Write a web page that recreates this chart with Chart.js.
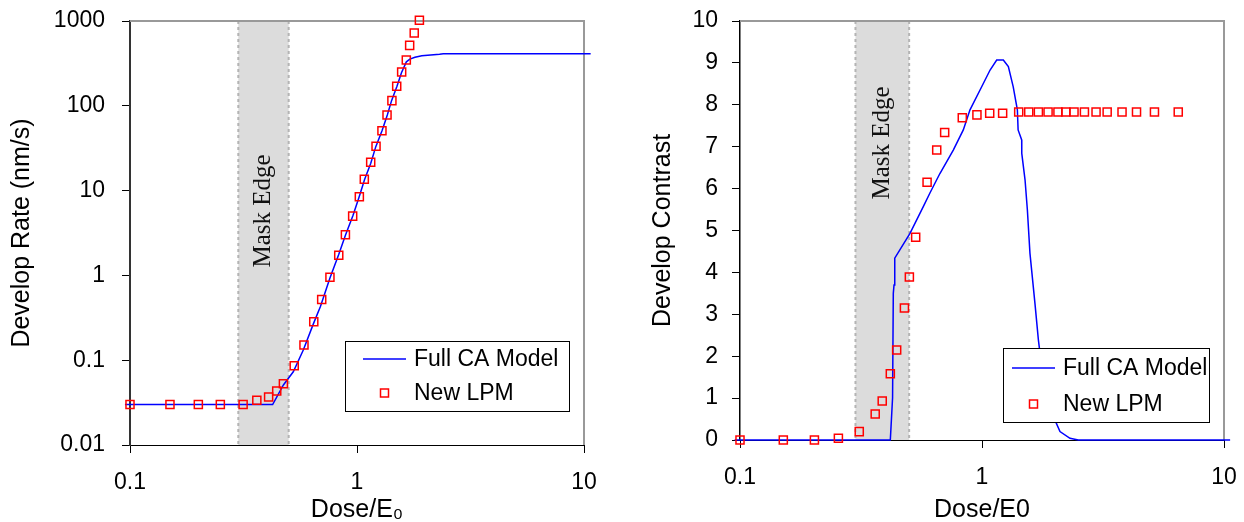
<!DOCTYPE html>
<html>
<head>
<meta charset="utf-8">
<script src="https://cdn.jsdelivr.net/npm/chart.js@4/dist/chart.umd.min.js"></script>
<style>
  body { margin: 0; background: #fff; }
  #wrap { position: relative; width: 1244px; height: 522px; }
  #rate, #contrast { position: absolute; top: 0; }
  #rate { left: 0; }
  #contrast { left: 622px; }
</style>
</head>
<body>
<div id="wrap">
  <canvas id="rate" width="622" height="522"></canvas>
  <canvas id="contrast" width="622" height="522"></canvas>
</div>
<script>
// --- data ---
const X_TICKS = [0.1, 1, 10];
const RATE_TICKS = [0.01, 0.1, 1, 10, 100, 1000];
const CONTRAST_TICKS = [0, 1, 2, 3, 4, 5, 6, 7, 8, 9, 10];
const MASK_EDGE = [0.3, 0.5];

// left panel: develop rate
const CA_RATE_DOSE = [0.095, 0.425, 0.474, 0.524, 0.58, 0.643, 0.69, 0.76, 0.83, 0.89, 0.96, 1.02, 1.08, 1.15, 1.21, 1.29, 1.36, 1.42, 1.5, 1.57, 1.65, 1.71, 1.8, 1.93, 2.31, 2.4, 10.7];
const CA_RATE = [0.03, 0.03, 0.051, 0.073, 0.132, 0.27, 0.43, 0.93, 1.75, 3.0, 5.1, 8.3, 13.5, 21, 33, 51, 78, 115, 170, 245, 330, 355, 373, 389, 405, 410, 410];
const LPM_RATE_DOSE = [0.1, 0.15, 0.2, 0.25, 0.315, 0.362, 0.408, 0.443, 0.474, 0.529, 0.584, 0.645, 0.699, 0.76, 0.831, 0.889, 0.957, 1.024, 1.077, 1.149, 1.213, 1.288, 1.356, 1.425, 1.496, 1.573, 1.649, 1.706, 1.787, 1.883];
const LPM_RATE = [0.03, 0.03, 0.03, 0.03, 0.03, 0.0337, 0.0368, 0.0433, 0.0528, 0.086, 0.151, 0.284, 0.52, 0.95, 1.73, 3.02, 5.0, 8.47, 13.6, 21.6, 33.3, 50.8, 78, 115, 170, 251, 347, 516, 722, 1018];

// right panel: develop contrast
const CA_CONTRAST_DOSE = [0.095, 0.418, 0.427, 0.43, 0.433, 0.436, 0.504, 0.572, 0.61, 0.67, 0.761, 0.837, 0.892, 0.997, 1.08, 1.15, 1.225, 1.285, 1.346, 1.40, 1.41, 1.459, 1.46, 1.506, 1.54, 1.578, 1.655, 1.71, 1.82, 2.0, 2.1, 2.31, 2.5, 10.6];
const CA_CONTRAST = [0, 0, 1.0, 3.5, 3.7, 4.34, 4.93, 5.57, 5.9, 6.36, 6.92, 7.4, 7.88, 8.43, 8.83, 9.07, 9.07, 8.91, 8.43, 7.88, 7.4, 7.16, 6.84, 6.21, 5.49, 4.46, 3.26, 2.39, 1.11, 0.48, 0.2, 0.04, 0, 0];
const LPM_CONTRAST_DOSE = [0.1, 0.151, 0.203, 0.255, 0.311, 0.362, 0.387, 0.418, 0.444, 0.478, 0.501, 0.532, 0.593, 0.65, 0.701, 0.829, 0.953, 1.076, 1.217, 1.418, 1.56, 1.71, 1.875, 2.06, 2.22, 2.4, 2.65, 2.96, 3.29, 3.79, 4.35, 5.16, 6.47];
const LPM_CONTRAST = [0, 0, 0, 0.04, 0.2, 0.62, 0.93, 1.58, 2.15, 3.15, 3.89, 4.84, 6.15, 6.92, 7.34, 7.69, 7.76, 7.8, 7.8, 7.83, 7.83, 7.83, 7.83, 7.83, 7.83, 7.83, 7.83, 7.83, 7.83, 7.83, 7.83, 7.83, 7.83];

const SANS = '"Liberation Sans", Arial, sans-serif';
Chart.defaults.font.family = SANS;
Chart.defaults.color = '#000';

function pts(xs, ys) {
  return xs.map((x, i) => ({x: x, y: ys[i]}));
}

// fixed axis size, and no extra label overflow padding
function fixSize(key, size) {
  return s => {
    s[key] = size;
    s.paddingTop = s.paddingBottom = s.paddingLeft = s.paddingRight = 0;
  };
}

// grey mask band, frame on top/right, rotated label
const maskBand = {
  id: 'maskBand',
  beforeDatasetsDraw(chart, args, o) {
    const {ctx, chartArea: a, scales: {x}} = chart;
    const x0 = x.getPixelForValue(MASK_EDGE[0]);
    const x1 = x.getPixelForValue(MASK_EDGE[1]);
    ctx.save();
    ctx.fillStyle = '#dcdcdc';
    ctx.fillRect(x0, a.top, x1 - x0, a.bottom - a.top);
    ctx.strokeStyle = '#b4b4b4';
    ctx.lineWidth = 2;
    ctx.setLineDash([3, 3]);
    [x0, x1].forEach(xx => {
      ctx.beginPath();
      ctx.moveTo(xx, a.top);
      ctx.lineTo(xx, a.bottom);
      ctx.stroke();
    });
    ctx.setLineDash([]);
    ctx.strokeStyle = '#999';
    ctx.beginPath();
    ctx.moveTo(a.left, a.top);
    ctx.lineTo(a.right, a.top);
    ctx.lineTo(a.right, a.bottom);
    ctx.stroke();
    ctx.translate((x0 + x1) / 2, o.textY);
    ctx.rotate(-Math.PI / 2);
    ctx.font = '25px "Liberation Serif", "Times New Roman", serif';
    ctx.textAlign = 'center';
    ctx.textBaseline = 'middle';
    ctx.fillStyle = '#111';
    ctx.fillText('Mask Edge', 0, 0);
    ctx.restore();
  }
};

// boxed legend inside the plot, lower right
const boxLegend = {
  id: 'boxLegend',
  afterDatasetsDraw(chart, args, o) {
    const {ctx, chartArea: a} = chart;
    const left = a.right - o.right - o.width;
    const top = a.bottom - o.bottom - o.height;
    const ds = chart.data.datasets;
    ctx.save();
    ctx.fillStyle = '#fff';
    ctx.fillRect(left, top, o.width, o.height);
    ctx.strokeStyle = '#000';
    ctx.lineWidth = 1;
    ctx.strokeRect(left + 0.5, top + 0.5, o.width, o.height);
    const cx = left + o.sample + 21.5;
    // line sample
    ctx.strokeStyle = ds[0].borderColor;
    ctx.lineWidth = 1.5;
    ctx.beginPath();
    ctx.moveTo(left + o.sample, top + o.row1);
    ctx.lineTo(left + o.sample + 43, top + o.row1);
    ctx.stroke();
    // square sample
    ctx.strokeStyle = ds[1].pointBorderColor;
    ctx.lineWidth = 1.5;
    ctx.strokeRect(cx - 4, top + o.row2 - 4, 8, 8);
    ctx.fillStyle = '#000';
    ctx.font = '23px ' + SANS;
    ctx.textBaseline = 'middle';
    ctx.fillText(ds[0].label, left + o.text, top + o.row1 + 1);
    ctx.fillText(ds[1].label, left + o.text, top + o.row2 + 1);
    ctx.restore();
  }
};

function lineSet(data) {
  return {
    label: 'Full CA Model', data: data, showLine: true, borderColor: '#0000ff',
    borderWidth: 1.5, pointRadius: 0, tension: 0, clip: 10, order: 1
  };
}
function lpmSet(data) {
  return {
    label: 'New LPM', data: data, showLine: false, pointStyle: 'rect', pointRadius: 5.7,
    pointBorderColor: '#ff0000', pointBackgroundColor: 'rgba(0,0,0,0)', pointBorderWidth: 1.5,
    borderColor: '#ff0000', clip: 10, order: 0
  };
}

function xScale(title, height) {
  return {
    type: 'logarithmic', min: 0.1, max: 10,
    afterBuildTicks: s => { s.ticks = X_TICKS.map(v => ({value: v})); },
    afterFit: fixSize('height', height),
    ticks: { font: {size: 23}, padding: 16, maxRotation: 0, autoSkip: false, callback: v => String(v) },
    grid: { drawOnChartArea: false, tickLength: 8, color: '#000' },
    border: { color: '#000', width: 1 },
    title: { display: true, text: title, font: {size: 25, lineHeight: 1}, padding: {top: 0, bottom: -1} }
  };
}

new Chart(document.getElementById('rate'), {
  type: 'scatter',
  data: { datasets: [lineSet(pts(CA_RATE_DOSE, CA_RATE)), lpmSet(pts(LPM_RATE_DOSE, LPM_RATE))] },
  options: {
    responsive: false, animation: false, devicePixelRatio: 1,
    layout: { padding: {top: 21, right: 38, left: 0, bottom: 0} },
    plugins: {
      legend: { display: false }, tooltip: { enabled: false },
      maskBand: { textY: 211 },
      boxLegend: { right: 15, bottom: 34, width: 224, height: 70, sample: 18, text: 69, row1: 18, row2: 52 }
    },
    scales: {
      x: xScale('Dose/E\u2080', 77),
      y: {
        type: 'logarithmic', min: 0.01, max: 1000,
        afterBuildTicks: s => { s.ticks = RATE_TICKS.map(v => ({value: v})); },
        afterFit: fixSize('width', 130),
        ticks: { font: {size: 23}, padding: 17, autoSkip: false, callback: v => String(v) },
        grid: { drawOnChartArea: false, tickLength: 8, color: '#000' },
        border: { color: '#333', width: 2 },
        title: { display: true, text: 'Develop Rate (nm/s)', font: {size: 25, lineHeight: 1}, padding: {top: 10, bottom: 0} }
      }
    }
  },
  plugins: [maskBand, boxLegend]
});

new Chart(document.getElementById('contrast'), {
  type: 'scatter',
  data: { datasets: [lineSet(pts(CA_CONTRAST_DOSE, CA_CONTRAST)), lpmSet(pts(LPM_CONTRAST_DOSE, LPM_CONTRAST))] },
  options: {
    responsive: false, animation: false, devicePixelRatio: 1,
    layout: { padding: {top: 21, right: 20, left: 0, bottom: 0} },
    plugins: {
      legend: { display: false }, tooltip: { enabled: false },
      maskBand: { textY: 143 },
      boxLegend: { right: 15, bottom: 18, width: 206, height: 74, sample: 9, text: 60, row1: 20, row2: 56 }
    },
    scales: {
      x: xScale('Dose/E0', 82),
      y: {
        type: 'linear', min: 0, max: 10,
        afterBuildTicks: s => { s.ticks = CONTRAST_TICKS.map(v => ({value: v})); },
        afterFit: fixSize('width', 118),
        ticks: { font: {size: 23}, padding: 14, autoSkip: false },
        grid: { drawOnChartArea: false, tickLength: 8, color: '#000' },
        border: { color: '#000', width: 1.5 },
        title: { display: true, text: 'Develop Contrast', font: {size: 25, lineHeight: 1}, padding: {top: 29, bottom: 0} }
      }
    }
  },
  plugins: [maskBand, boxLegend]
});
</script>
</body>
</html>
